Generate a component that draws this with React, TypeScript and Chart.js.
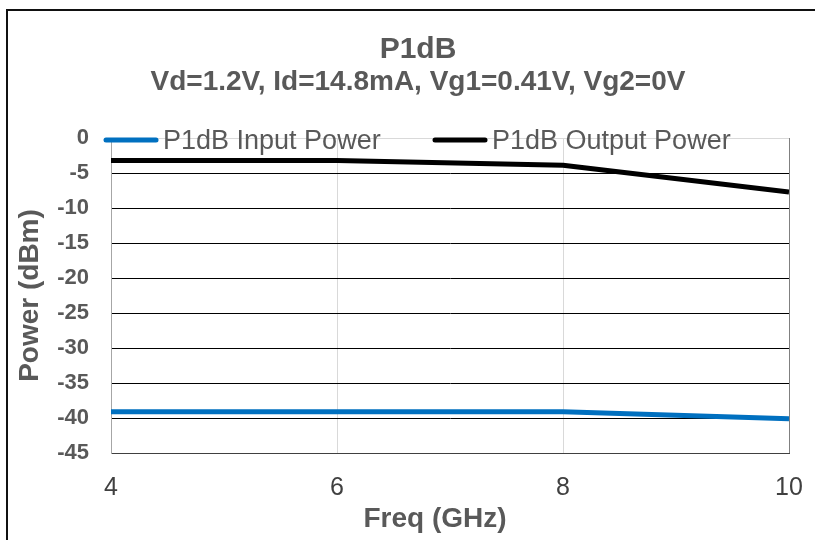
import { useEffect, useRef } from "react";
import { Chart, registerables } from "chart.js";

Chart.register(...registerables);

const freqGHz = [4, 6, 8, 10];
const inputPower = [-39.1, -39.1, -39.1, -40.1];
const outputPower = [-3.2, -3.2, -3.9, -7.7];
const seriesLabels = ["P1dB Input Power", "P1dB Output Power"];
const seriesColors = ["#0070C0", "#000000"];
const titleText = "P1dB";
const subtitleText = "Vd=1.2V, Id=14.8mA, Vg1=0.41V, Vg2=0V";
const xTitle = "Freq (GHz)";
const yTitle = "Power (dBm)";
const yMin = -45;
const yMax = 0;
const yStep = 5;
const xMin = 4;
const xMax = 10;
const xStep = 2;

const FAMILY = '"Liberation Sans", Arial, Helvetica, sans-serif';
const TEXT = "#595959";

const decorPlugin = {
  id: "decor",
  afterDraw(chart: any) {
    const ctx = chart.ctx as CanvasRenderingContext2D;
    ctx.save();
    // outer frame
    ctx.strokeStyle = "#111";
    ctx.lineWidth = 2;
    ctx.strokeRect(7, 10, 900, 900);
    // titles
    ctx.fillStyle = TEXT;
    ctx.textAlign = "center";
    ctx.textBaseline = "alphabetic";
    ctx.font = `bold 30px ${FAMILY}`;
    ctx.fillText(titleText, 418, 58);
    ctx.font = `bold 28px ${FAMILY}`;
    ctx.fillText(subtitleText, 418, 90);
    // x axis title
    ctx.font = `bold 28px ${FAMILY}`;
    ctx.fillText(xTitle, 435, 527);
    // legend
    const starts = [104, 433];
    const y = 140;
    ctx.font = `27px ${FAMILY}`;
    ctx.textAlign = "left";
    chart.data.datasets.forEach((ds: any, i: number) => {
      const x0 = starts[i];
      ctx.strokeStyle = ds.borderColor;
      ctx.lineWidth = 5;
      ctx.lineCap = "round";
      ctx.beginPath();
      ctx.moveTo(x0 + 2, y);
      ctx.lineTo(x0 + 52, y);
      ctx.stroke();
      ctx.fillStyle = TEXT;
      ctx.fillText(ds.label, x0 + 59, y + 9);
    });
    ctx.restore();
  },
};

export default function App() {
  const ref = useRef<HTMLCanvasElement | null>(null);
  useEffect(() => {
    if (!ref.current) return;
    const chart = new Chart(ref.current, {
      type: "line",
      data: {
        datasets: [
          {
            label: seriesLabels[0],
            data: freqGHz.map((f, i) => ({ x: f, y: inputPower[i] })),
            borderColor: seriesColors[0],
            backgroundColor: seriesColors[0],
            borderWidth: 5,
            pointRadius: 0,
            tension: 0,
            borderJoinStyle: "round",
          },
          {
            label: seriesLabels[1],
            data: freqGHz.map((f, i) => ({ x: f, y: outputPower[i] })),
            borderColor: seriesColors[1],
            backgroundColor: seriesColors[1],
            borderWidth: 5,
            pointRadius: 0,
            tension: 0,
            borderJoinStyle: "round",
          },
        ],
      },
      options: {
        animation: false,
        responsive: false,
        devicePixelRatio: 1,
        layout: { padding: { left: 10, right: 26, top: 138, bottom: 0 } },
        plugins: {
          legend: { display: false },
          title: { display: false },
          tooltip: { enabled: false },
        },
        scales: {
          x: {
            type: "linear",
            min: xMin,
            max: xMax,
            ticks: {
              stepSize: xStep,
              font: { family: FAMILY, size: 25 },
              color: "#404040",
              padding: 20,
            },
            grid: {
              drawTicks: false,
              color: (c: any) =>
                c.tick && c.tick.value === xMax ? "#808080" : c.tick && c.tick.value === xMin ? "#a6a6a6" : "#d9d9d9",
            },
            border: { display: true, color: "#404040" },
            title: { display: false, text: xTitle },
            afterFit: (s: any) => {
              s.height = 87;
              s.paddingLeft = 0;
              s.paddingRight = 0;
            },
          },
          y: {
            min: yMin,
            max: yMax,
            ticks: {
              stepSize: yStep,
              font: { family: FAMILY, size: 22, weight: "bold" },
              color: TEXT,
              padding: 22,
            },
            grid: {
              drawTicks: false,
              color: (c: any) => (c.tick && c.tick.value === 0 ? "#d9d9d9" : "#000000"),
            },
            border: { display: true, color: "#a6a6a6" },
            title: {
              display: true,
              text: yTitle,
              font: { family: FAMILY, size: 28, weight: "bold" },
              color: TEXT,
              padding: { top: 3, bottom: 0 },
            },
            afterFit: (s: any) => {
              s.width = 101;
              s.paddingTop = 0;
              s.paddingBottom = 0;
            },
          },
        },
      } as any,
      plugins: [decorPlugin],
    });
    return () => chart.destroy();
  }, []);
  return (
    <div style={{ position: "fixed", left: 0, top: 0, width: 815, height: 540, background: "#fff" }}>
      <canvas ref={ref} width={815} height={540} style={{ display: "block" }} />
    </div>
  );
}
